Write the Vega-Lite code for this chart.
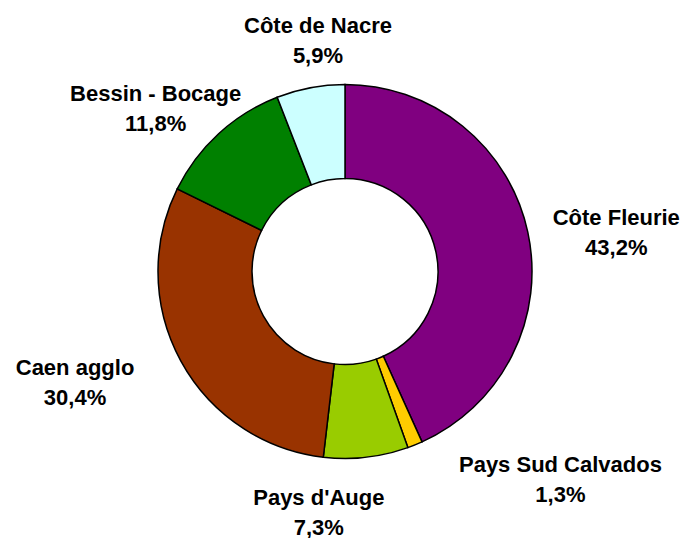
{
  "$schema": "https://vega.github.io/schema/vega-lite/v6.json",
  "width": 682,
  "height": 533,
  "autosize": "none",
  "padding": {"left": 4, "top": 5, "right": 0, "bottom": 0},
  "background": "white",
  "config": {"view": {"stroke": null}},
  "data": {"values": [
    {"cat": "Côte Fleurie", "value": 43.2, "label": "Côte Fleurie\n43,2%", "order": 1},
    {"cat": "Pays Sud Calvados", "value": 1.3, "label": "Pays Sud Calvados\n1,3%", "order": 2},
    {"cat": "Pays d'Auge", "value": 7.3, "label": "Pays d'Auge\n7,3%", "order": 3},
    {"cat": "Caen agglo", "value": 30.4, "label": "Caen agglo\n30,4%", "order": 4},
    {"cat": "Bessin - Bocage", "value": 11.8, "label": "Bessin - Bocage\n11,8%", "order": 5},
    {"cat": "Côte de Nacre", "value": 5.9, "label": "Côte de Nacre\n5,9%", "order": 6}
  ]},
  "encoding": {
    "theta": {"field": "value", "type": "quantitative", "stack": true},
    "order": {"field": "order", "type": "quantitative"}
  },
  "layer": [
    {
      "mark": {"type": "arc", "radius": 187, "innerRadius": 93, "stroke": "black", "strokeWidth": 1.5},
      "encoding": {
        "color": {
          "field": "cat", "type": "nominal", "legend": null,
          "scale": {
            "domain": ["Côte Fleurie", "Pays Sud Calvados", "Pays d'Auge", "Caen agglo", "Bessin - Bocage", "Côte de Nacre"],
            "range": ["#800080", "#FFCC00", "#99CC00", "#993300", "#008000", "#CCFFFF"]
          }
        }
      }
    },
    {
      "mark": {"type": "text", "radius": 255, "dx": 22, "dy": 0, "font": "Liberation Sans", "fontWeight": "bold", "fontSize": 22, "lineBreak": "\n", "lineHeight": 30, "align": "center", "baseline": "middle", "color": "black"},
      "encoding": {"text": {"condition": {"test": "datum.order === 1", "field": "label"}, "value": ""}}
    },
    {
      "mark": {"type": "text", "radius": 255, "dx": 120, "dy": -43, "font": "Liberation Sans", "fontWeight": "bold", "fontSize": 22, "lineBreak": "\n", "lineHeight": 30, "align": "center", "baseline": "middle", "color": "black"},
      "encoding": {"text": {"condition": {"test": "datum.order === 2", "field": "label"}, "value": ""}}
    },
    {
      "mark": {"type": "text", "radius": 255, "dx": -55, "dy": -27, "font": "Liberation Sans", "fontWeight": "bold", "fontSize": 22, "lineBreak": "\n", "lineHeight": 30, "align": "center", "baseline": "middle", "color": "black"},
      "encoding": {"text": {"condition": {"test": "datum.order === 3", "field": "label"}, "value": ""}}
    },
    {
      "mark": {"type": "text", "radius": 255, "dx": -46, "dy": -25, "font": "Liberation Sans", "fontWeight": "bold", "fontSize": 22, "lineBreak": "\n", "lineHeight": 30, "align": "center", "baseline": "middle", "color": "black"},
      "encoding": {"text": {"condition": {"test": "datum.order === 4", "field": "label"}, "value": ""}}
    },
    {
      "mark": {"type": "text", "radius": 255, "dx": -17, "dy": 10, "font": "Liberation Sans", "fontWeight": "bold", "fontSize": 22, "lineBreak": "\n", "lineHeight": 30, "align": "center", "baseline": "middle", "color": "black"},
      "encoding": {"text": {"condition": {"test": "datum.order === 5", "field": "label"}, "value": ""}}
    },
    {
      "mark": {"type": "text", "radius": 255, "dx": 20, "dy": 5, "font": "Liberation Sans", "fontWeight": "bold", "fontSize": 22, "lineBreak": "\n", "lineHeight": 30, "align": "center", "baseline": "middle", "color": "black"},
      "encoding": {"text": {"condition": {"test": "datum.order === 6", "field": "label"}, "value": ""}}
    }
  ]
}
